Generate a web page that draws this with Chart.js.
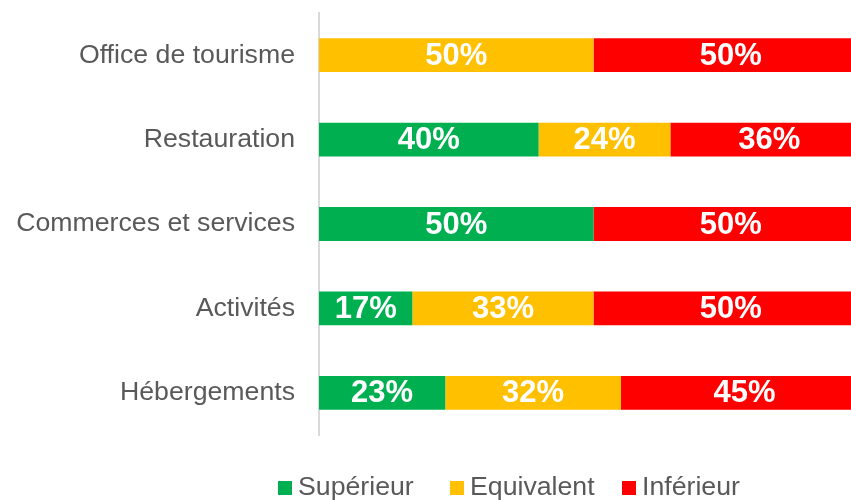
<!DOCTYPE html>
<html>
<head>
<meta charset="utf-8">
<script src="https://cdn.jsdelivr.net/npm/chart.js@4"></script>
<style>
  html, body { margin: 0; padding: 0; background: #fff; }
  #wrap { width: 851px; height: 500px; position: relative; }
</style>
</head>
<body>
<div id="wrap"><canvas id="chart"></canvas></div>
<script>
// Categories and shares (%)
const categories = ['Office de tourisme', 'Restauration', 'Commerces et services', 'Activités', 'Hébergements'];
const superieur = [0, 40, 50, 17, 23];
const equivalent = [50, 24, 0, 33, 32];
const inferieur = [50, 36, 50, 50, 45];

const seriesNames = ['Supérieur', 'Equivalent', 'Inférieur'];
const seriesColors = ['#00B050', '#FFC000', '#FF0000'];

const FONT = '"Liberation Sans", Arial, sans-serif';
// the original plot runs past the right edge of the picture, only ~97% is visible
const visibleMax = 96.9;

// white bold percentage labels in the middle of each segment
const barLabels = {
  id: 'barLabels',
  afterDatasetsDraw(chart) {
    const ctx = chart.ctx;
    ctx.save();
    ctx.fillStyle = '#ffffff';
    ctx.font = 'bold 31px ' + FONT;
    ctx.textAlign = 'center';
    ctx.textBaseline = 'middle';
    chart.data.datasets.forEach((ds, i) => {
      const meta = chart.getDatasetMeta(i);
      meta.data.forEach((bar, j) => {
        const v = ds.data[j];
        if (!v) return;
        ctx.fillText(v + '%', (bar.x + bar.base) / 2, bar.y + 1);
      });
    });
    ctx.restore();
  }
};

// Excel style legend: small square, short gap, text, fixed slot per item
const bottomLegend = {
  id: 'bottomLegend',
  afterDraw(chart) {
    const ctx = chart.ctx;
    const startX = 278, slot = 172, baseY = 495;
    ctx.save();
    ctx.font = '26.7px ' + FONT;
    ctx.textBaseline = 'alphabetic';
    ctx.textAlign = 'left';
    chart.data.datasets.forEach((ds, i) => {
      const x = startX + i * slot;
      ctx.fillStyle = ds.backgroundColor;
      ctx.fillRect(x, baseY - 14, 14, 14);
      ctx.fillStyle = '#595959';
      ctx.fillText(ds.label, x + 20, baseY);
    });
    ctx.restore();
  }
};

const datasets = [superieur, equivalent, inferieur].map((d, i) => ({
  label: seriesNames[i],
  data: d,
  backgroundColor: seriesColors[i],
  borderWidth: 0,
  categoryPercentage: 1,
  barPercentage: 0.4
}));

new Chart(document.getElementById('chart'), {
  type: 'bar',
  data: { labels: categories, datasets: datasets },
  options: {
    indexAxis: 'y',
    responsive: true,
    maintainAspectRatio: false,
    animation: false,
    layout: { padding: { top: 13, right: 0, bottom: 65, left: 0 } },
    plugins: {
      legend: { display: false },
      tooltip: { enabled: false }
    },
    scales: {
      x: {
        stacked: true,
        min: 0,
        max: visibleMax,
        display: false
      },
      y: {
        stacked: true,
        grid: { display: false, drawTicks: false },
        border: { display: true, color: '#D9D9D9', width: 2 },
        ticks: {
          color: '#595959',
          padding: 24,
          font: { size: 26.7, family: FONT }
        },
        afterFit(scale) {
          scale.width = 319;
          scale.paddingTop = 0;
          scale.paddingBottom = 0;
        }
      }
    }
  },
  plugins: [barLabels, bottomLegend]
});
</script>
</body>
</html>
